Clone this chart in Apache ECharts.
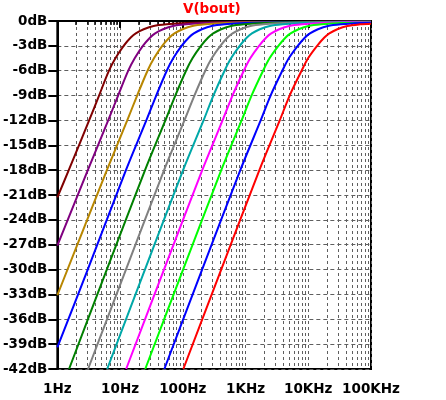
<!DOCTYPE html>
<html>
<head>
<meta charset="utf-8">
<script src="https://cdn.jsdelivr.net/npm/echarts@6/dist/echarts.min.js"></script>
<style>html,body{margin:0;padding:0;background:#fff}#c{width:446px;height:400px}</style>
</head>
<body>
<div id="c"></div>
<script>
// ---- data (frequency in Hz, magnitude in dB) ----
const titleText = 'V(bout)';
const xTickLabels = ['1Hz', '10Hz', '100Hz', '1KHz', '10KHz', '100KHz'];
const yMin = -42, yMax = 0, yStep = 3;
const traceColors = ['#800000', '#800080', '#b88600', '#0000ff', '#008000', '#808080',
                     '#00a8a8', '#ff00ff', '#00ff00', '#0000ff', '#ff0000'];

const curve0 = [[1,-21.3],[1.52,-18],[3.21,-12],[4.62,-9],[6.65,-6],[8.43,-4.5],[11.4,-3],[14.8,-2],[17.8,-1.5],[23.8,-1],[34.3,-0.6],[55,-0.4],[114,-0.25],[408,-0.15],[100000,-0.1]];
const curve1 = [[1,-27.1],[3.06,-18],[6.46,-12],[9.30,-9],[13.5,-6],[17.1,-4.5],[23.1,-3],[30.2,-2],[36.2,-1.5],[48.4,-1],[69.8,-0.6],[112,-0.4],[232,-0.25],[830,-0.15],[100000,-0.1]];
const curve2 = [[1,-33.1],[6.16,-18],[13.0,-12],[18.7,-9],[27.4,-6],[34.7,-4.5],[47.0,-3],[61.4,-2],[73.6,-1.5],[98.6,-1],[142,-0.6],[228,-0.4],[472,-0.25],[1690,-0.15],[100000,-0.1]];
const curve3 = [[1,-39.4],[3.05,-30],[12.4,-18],[26.2,-12],[37.7,-9],[55.5,-6],[70.3,-4.5],[95.7,-3],[125,-2],[150,-1.5],[201,-1],[289,-0.6],[464,-0.4],[961,-0.25],[3440,-0.15],[100000,-0.1]];
const curve4 = [[1.537,-42],[6.14,-30],[25.0,-18],[52.7,-12],[75.9,-9],[112.5,-6],[142.6,-4.5],[194.8,-3],[254,-2],[305,-1.5],[408,-1],[588,-0.6],[943,-0.4],[1955,-0.25],[7000,-0.15],[100000,-0.1]];
const curve5 = [[3.09,-42],[12.4,-30],[50.3,-18],[106,-12],[153,-9],[228,-6],[289,-4.5],[397,-3],[517,-2],[621,-1.5],[831,-1],[1197,-0.6],[1920,-0.4],[3980,-0.25],[14240,-0.15],[100000,-0.12]];
const curve6 = [[6.23,-42],[24.9,-30],[101,-18],[214,-12],[307,-9],[463,-6],[587,-4.5],[807,-3],[1052,-2],[1263,-1.5],[1690,-1],[2436,-0.6],[3906,-0.4],[8096,-0.25],[28980,-0.15],[100000,-0.12]];
const curve7 = [[12.5,-42],[50.1,-30],[204,-18],[430,-12],[619,-9],[938,-6],[1189,-4.5],[1642,-3],[2142,-2],[2569,-1.5],[3439,-1],[4956,-0.6],[7948,-0.4],[16470,-0.25],[58960,-0.15],[100000,-0.13]];
const curve8 = [[25.2,-42],[101,-30],[410,-18],[865,-12],[1246,-9],[1903,-6],[2413,-4.5],[3341,-3],[4359,-2],[5229,-1.5],[7000,-1],[10090,-0.6],[16180,-0.4],[33530,-0.25],[100000,-0.17]];
const curve9 = [[50.8,-42],[203,-30],[825,-18],[1742,-12],[2507,-9],[3859,-6],[4892,-4.5],[6800,-3],[8871,-2],[10640,-1.5],[14250,-1],[20530,-0.6],[32920,-0.4],[68240,-0.25],[100000,-0.22]];
const curve10 = [[102,-42],[409,-30],[1662,-18],[3507,-12],[5047,-9],[7827,-6],[9921,-4.5],[13840,-3],[18050,-2],[21660,-1.5],[28990,-1],[41780,-0.6],[66990,-0.4],[100000,-0.32]];

const curves = [curve0, curve1, curve2, curve3, curve4, curve5, curve6, curve7, curve8, curve9, curve10];

// ---- chart ----
const FONT = 'DejaVu Sans';
const chart = echarts.init(document.getElementById('c'), null, { renderer: 'canvas' });
const gridDash = { color: '#5f5f5f', width: 1, type: [3, 3] };

chart.setOption({
  animation: false,
  backgroundColor: '#fff',
  title: {
    text: titleText,
    left: 183, top: 2, padding: 0,
    textStyle: { color: '#ff0000', fontFamily: FONT, fontWeight: 'bold', fontSize: 13.5 }
  },
  grid: {
    left: 55, right: 75, top: 21, bottom: 31,
    show: true, borderColor: '#000', borderWidth: 2, backgroundColor: 'transparent'
  },
  xAxis: {
    type: 'log', logBase: 10, min: 1, max: 100000, splitNumber: 5,
    axisLine: { show: true, lineStyle: { color: '#000', width: 2 } },
    axisTick: { show: true, length: 7, lineStyle: { color: '#000', width: 2 } },
    minorTick: { show: true, splitNumber: 9, length: 4, lineStyle: { color: '#000', width: 1.5 } },
    splitLine: { show: true, lineStyle: gridDash },
    minorSplitLine: { show: true, lineStyle: gridDash },
    axisLabel: {
      show: true, margin: 13, color: '#000', fontFamily: FONT, fontWeight: 'bold', fontSize: 13.5,
      showMinLabel: true, showMaxLabel: true,
      formatter: v => xTickLabels[Math.round(Math.log10(v))] || ''
    }
  },
  yAxis: {
    type: 'value', min: yMin, max: yMax, interval: yStep,
    axisLine: { show: true, lineStyle: { color: '#000', width: 2 } },
    axisTick: { show: true, length: 9, lineStyle: { color: '#000', width: 2 } },
    splitLine: { show: true, lineStyle: { color: '#5f5f5f', width: 1, type: [4, 3] } },
    axisLabel: {
      margin: 10, color: '#000', fontFamily: FONT, fontWeight: 'bold', fontSize: 13.5,
      formatter: v => v + 'dB'
    }
  },
  series: curves.map((c, i) => ({
    type: 'line',
    data: c,
    showSymbol: false,
    smooth: 0.3,
    clip: true,
    lineStyle: { color: traceColors[i], width: 2 },
    itemStyle: { color: traceColors[i] },
    z: 3 + i
  }))
});
</script>
</body>
</html>
